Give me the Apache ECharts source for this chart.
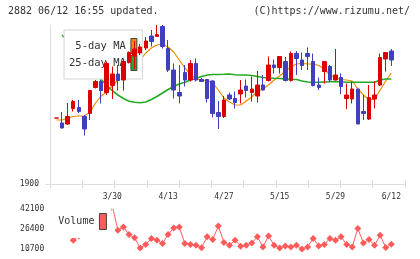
<!DOCTYPE html>
<html>
<head>
<meta charset="utf-8">
<script src="https://cdn.jsdelivr.net/npm/echarts@6/dist/echarts.min.js"></script>
<style>
  html, body { margin: 0; padding: 0; background: #fff; }
  #chart { width: 420px; height: 259px; }
</style>
</head>
<body>
<div id="chart"></div>
<script>
const dates = ['3/13', '3/16', '3/17', '3/18', '3/19', '3/23', '3/24', '3/25', '3/26', '3/27',
  '3/30', '3/31', '4/1', '4/2', '4/3', '4/6', '4/7', '4/8', '4/9', '4/10',
  '4/13', '4/14', '4/15', '4/16', '4/17', '4/20', '4/21', '4/22', '4/23', '4/24',
  '4/27', '4/28', '4/30', '5/1', '5/7', '5/8', '5/11', '5/12', '5/13', '5/14',
  '5/15', '5/18', '5/19', '5/20', '5/21', '5/22', '5/25', '5/26', '5/27', '5/28',
  '5/29', '6/1', '6/2', '6/3', '6/4', '6/5', '6/8', '6/9', '6/10', '6/11', '6/12']
const dateLabels = ['3/30', '4/13', '4/27', '5/15', '5/29', '6/12']

const opens = [1966, 1961, 1960, 1975.5, 1976.5, 1967.5, 1970.5, 1996.5, 2002.5, 1991.5,
  1998.5, 2010, 2004, 2021.5, 2028, 2031, 2036, 2048, 2047.5, 2057.5,
  2035.5, 2014, 1991.5, 2011.5, 2004, 2020.5, 2004.5, 2004.5, 2003, 1971.5,
  1967.5, 1989, 1985.5, 1990, 1998, 1991.5, 1988, 1999, 2003.5, 2019,
  2016.5, 2022.5, 2003.5, 2030.5, 2024, 2030.5, 2022.5, 1999, 2012.5, 2017.5,
  2004, 2006.5, 1985.5, 1985, 1995, 1972.5, 1965, 1985, 1999, 2025, 2033]
const closes = [1966, 1956, 1967.5, 1982.5, 1972.5, 1955, 1993.5, 2002.5, 1993.5, 2020.5,
  2010, 2003.5, 2022.5, 2031.5, 2035, 2037, 2043, 2042.5, 2049.5, 2037.5,
  2014, 1994, 1988, 2004, 2020.5, 2004, 2002.5, 1985.5, 1970.5, 1967.5,
  1984, 1985, 1981.5, 1994, 1993.5, 1995, 1999, 1994, 2019, 2016.5,
  2027.5, 2003.5, 2030.5, 2025.5, 2018.5, 2027.5, 1998.5, 1996.5, 2022.5, 2004,
  2009, 1997.5, 1989, 1995, 1960, 1970.5, 1986.5, 1989, 2026.5, 2031.5, 2024]
const lows = [1966, 1955.5, 1959, 1972.5, 1971, 1948.5, 1964, 1995.5, 1980.5, 1989,
  1985, 1993.5, 1993.5, 2020.5, 2015, 2029, 2034, 2037.5, 2047.5, 2035.5,
  2012, 1985.5, 1980.5, 1997.5, 2002.5, 2002.5, 2002, 1981.5, 1966.5, 1955,
  1966, 1984, 1975.5, 1980.5, 1986.5, 1982.5, 1981.5, 1993.5, 2002.5, 2010.5,
  2010.5, 2002.5, 2002.5, 2009, 2014, 2014, 1997.5, 1994, 2000.5, 2002.5,
  2003.5, 1990, 1975, 1980.5, 1960, 1964, 1964, 1975.5, 1998, 2012.5, 2018]
const highs = [1966, 1972, 1981, 1984, 1984, 1969, 1994, 2004, 2004, 2022.5,
  2017.5, 2019, 2025.5, 2032.5, 2043, 2040, 2047, 2054, 2059, 2059,
  2044, 2020.5, 2019, 2019, 2024, 2025.5, 2006, 2005, 2004, 1983,
  1988, 1991.5, 1992.5, 2004, 2004.5, 2007.5, 2013, 2009, 2027.5, 2024.5,
  2028, 2027, 2032.5, 2033, 2031.5, 2036.5, 2030.5, 2006.5, 2022.5, 2019,
  2035, 2010.5, 2000.5, 2002.5, 1995, 1989, 1999, 2003, 2030.5, 2031.5, 2035]

const ma5 = [1964, 1964, 1966, 1967.5, 1968, 1968, 1972, 1981, 1988, 1992,
  1998, 2004, 2010, 2016, 2021, 2024, 2031, 2036, 2039, 2040,
  2037, 2032, 2024, 2016, 2010, 2005, 2004, 2003.5, 2001, 1994,
  1986, 1982, 1979, 1979, 1983, 1987, 1993, 1995, 1999, 2004,
  2008, 2013, 2017, 2020, 2020.5, 2020.2, 2020, 2018.5, 2015, 2009,
  2006.5, 2004.5, 2004, 2003, 1995, 1989, 1984, 1985, 1994, 2003, 2011]
const ma25 = [null, 2049, 2043, 2037, 2031, 2024, 2018, 2011, 2004.5, 1999,
  1993.3, 1989, 1985.5, 1982.7, 1981.7, 1981.3, 1982, 1984.5, 1987.5, 1991,
  1994.5, 1997.5, 2000, 2001.7, 2004, 2005.5, 2007.5, 2009, 2009.5, 2009.5,
  2009.7, 2010, 2009.3, 2009, 2009, 2008.5, 2007.5, 2006.5, 2006, 2005.7,
  2005.5, 2005, 2004.7, 2004.5, 2003, 2002, 2001.7, 2001.7, 2002, 2002.3,
  2002.3, 2002.2, 2001.7, 2001.7, 2001.7, 2001.7, 2001.7, 2001.7, 2004, 2005, 2005]

const volume = [28000, 30000, 27000, 17800, 21000, 26000, 30000, 24000, 22000, 30000,
  45000, 25600, 28200, 22200, 19600, 11700, 14400, 19100, 17800, 15200,
  22200, 27400, 28200, 15200, 14400, 13800, 11900, 20400, 18300, 29000,
  16000, 13800, 17800, 13100, 13800, 15600, 20400, 12500, 21100, 13800,
  11700, 13300, 12500, 13800, 10800, 12500, 19100, 13300, 14400, 19100,
  17800, 20400, 14400, 12500, 27000, 15600, 18300, 13800, 21700, 12000, 14600]
const volumeTicks = [10700, 26400, 42100]

const font = 'DejaVu Sans Mono'
const upColor = '#dd0000'
const downColor = '#3f3fbf'
const frameColor = '#dcdcdc'
const plain = v => String(v)

const candles = dates.map((d, i) => [opens[i], closes[i], lows[i], highs[i]])

const chart = echarts.init(document.getElementById('chart'))
chart.setOption({
  animation: false,
  title: [
    {
      text: '2882 06/12 16:55 updated.',
      left: 8,
      top: 6,
      padding: 0,
      textStyle: { fontFamily: font, fontSize: 10, fontWeight: 'normal', color: '#333' }
    },
    {
      text: '(C)https://www.rizumu.net/',
      right: 10,
      top: 6,
      padding: 0,
      textStyle: { fontFamily: font, fontSize: 10, fontWeight: 'normal', color: '#333' }
    }
  ],
  legend: [
    {
      data: ['5-day MA', '25-day MA'],
      orient: 'vertical',
      align: 'right',
      left: 64,
      top: 30,
      padding: [8, 5, 8, 5],
      itemWidth: 6,
      itemHeight: 15,
      itemGap: 1,
      icon: 'rect',
      selectedMode: false,
      backgroundColor: '#fff',
      borderColor: '#d4d4d4',
      borderWidth: 1,
      itemStyle: { borderColor: '#444', borderWidth: 1 },
      textStyle: { fontFamily: font, fontSize: 10.5, color: '#333' }
    },
    {
      data: ['Volume'],
      orient: 'vertical',
      align: 'right',
      left: 51,
      top: 205,
      padding: [8, 4, 8, 7.3],
      itemWidth: 7,
      itemHeight: 16,
      icon: 'rect',
      selectedMode: false,
      backgroundColor: '#fff',
      itemStyle: { borderColor: '#444', borderWidth: 1 },
      textStyle: { fontFamily: font, fontSize: 10, color: '#333' }
    }
  ],
  grid: [
    { left: 53.7, right: 25.9, top: 25, bottom: 75 },
    { left: 50, right: 15, top: 25, bottom: 75 },
    { left: 53.7, right: 25.9, top: 209.2, bottom: 9.8 }
  ],
  xAxis: [
    {
      type: 'category',
      gridIndex: 0,
      data: dates,
      axisLine: { show: false },
      axisTick: { show: false },
      axisLabel: {
        interval: (i, v) => dateLabels.includes(v),
        fontFamily: font,
        fontSize: 8,
        color: '#333',
        margin: 9
      }
    },
    {
      type: 'value',
      gridIndex: 1,
      position: 'bottom',
      min: 0,
      max: 11,
      interval: 1,
      axisLine: { show: true, lineStyle: { color: frameColor } },
      axisTick: { show: true, length: 4, lineStyle: { color: frameColor } },
      axisLabel: { show: false },
      splitLine: { show: false }
    },
    {
      type: 'value',
      gridIndex: 1,
      position: 'bottom',
      min: 0,
      max: 11,
      interval: 1,
      axisLine: { show: false },
      axisTick: { show: true, inside: true, length: 4, lineStyle: { color: frameColor } },
      axisLabel: { show: false },
      splitLine: { show: false }
    },
    {
      type: 'category',
      gridIndex: 2,
      data: dates,
      show: false
    }
  ],
  yAxis: [
    {
      type: 'value',
      gridIndex: 0,
      min: 1900,
      max: 2059,
      show: false
    },
    {
      type: 'value',
      gridIndex: 1,
      min: 1900,
      max: 2059,
      axisLine: { show: true, lineStyle: { color: frameColor } },
      axisTick: { show: true, length: 5, customValues: [1900], lineStyle: { color: frameColor } },
      axisLabel: { customValues: [1900], formatter: plain, fontFamily: font, fontSize: 8, color: '#333', margin: 11 },
      splitLine: { show: false }
    },
    {
      type: 'value',
      gridIndex: 2,
      min: volumeTicks[0],
      max: volumeTicks[2],
      interval: volumeTicks[1] - volumeTicks[0],
      axisLine: { show: false },
      axisTick: { show: false },
      axisLabel: { formatter: plain, fontFamily: font, fontSize: 8, color: '#333', margin: 9.5 },
      splitLine: { show: false }
    }
  ],
  series: [
    {
      name: '5-day MA',
      type: 'line',
      xAxisIndex: 0,
      yAxisIndex: 0,
      data: ma5,
      color: '#f08c00',
      symbol: 'none',
      lineStyle: { color: '#f08c00', width: 1.2 },
      z: 2
    },
    {
      name: '25-day MA',
      type: 'line',
      xAxisIndex: 0,
      yAxisIndex: 0,
      data: ma25,
      color: '#22aa22',
      symbol: 'none',
      lineStyle: { color: '#22aa22', width: 1.6 },
      z: 2
    },
    {
      name: 'price',
      type: 'candlestick',
      xAxisIndex: 0,
      yAxisIndex: 0,
      data: candles,
      barWidth: 4,
      itemStyle: {
        color: upColor,
        color0: downColor,
        borderColor: upColor,
        borderColor0: downColor,
        borderColorDoji: upColor,
        borderWidth: 1
      },
      z: 6
    },
    {
      name: 'Volume',
      type: 'line',
      xAxisIndex: 3,
      yAxisIndex: 2,
      data: volume,
      color: '#ff5b5b',
      symbol: 'diamond',
      symbolSize: 7,
      showAllSymbol: true,
      lineStyle: { color: '#ff5b5b', width: 1 },
      itemStyle: { color: '#ff5b5b' },
      z: 2
    }
  ]
})
</script>
</body>
</html>
